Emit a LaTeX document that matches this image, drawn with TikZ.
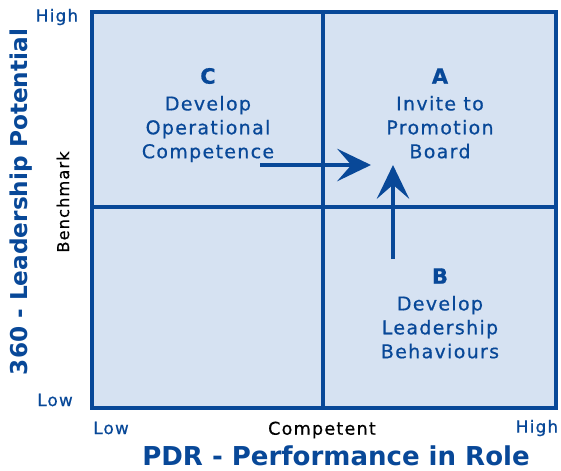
\documentclass[tikz,border=0pt]{standalone}
\usepackage{fontspec}
\setmainfont{DejaVu Sans}
\newfontfamily\quadfont[LetterSpace=7,FakeBold=0.6]{DejaVu Sans}
\usetikzlibrary{arrows.meta}

\definecolor{gridblue}{RGB}{8,72,152}
\definecolor{cellfill}{RGB}{214,226,242}

\begin{document}
\begin{tikzpicture}[x=0.025cm,y=-0.025cm,
    quad/.style={text=gridblue,align=center,font=\quadfont\fontsize{13.5}{17}\selectfont},
    quadletter/.style={text=gridblue,font=\quadfont\bfseries\fontsize{15}{17}\selectfont},
    axislabel/.style={text=gridblue,font=\quadfont\fontsize{12}{14}\selectfont},
    axistitle/.style={text=gridblue,font=\bfseries\fontsize{16}{18}\selectfont},
    move/.style={gridblue,line width=3pt,-{Stealth[length=24pt,width=23pt,inset=10pt]}}]
\useasboundingbox (0,0) rectangle (561,470);
% the grid
\fill[cellfill] (92,12) rectangle (556,408);
\draw[gridblue,line width=3.5pt] (92,12) rectangle (556,408);
\draw[gridblue,line width=3.5pt] (323,12) -- (323,408);
\draw[gridblue,line width=3.5pt] (92,207) -- (556,207);

% quadrant texts
\node[quadletter](Cl) at (208,76){C};
\node[quad,anchor=north](Ct) at (208,91){Develop\\Operational\\Competence};
\node[quadletter](Al) at (440,76){A};
\node[quad,anchor=north](At) at (440,91){Invite to\\Promotion\\Board};
\node[quadletter](Bl) at (440,276){B};
\node[quad,anchor=north](Bt) at (440,291){Develop\\Leadership\\Behaviours};

% moves towards A
\coordinate(Cfrom) at (260,165);
\coordinate(Cto) at (371,165);
\coordinate(Bfrom) at (393,259);
\coordinate(Bto) at (393,165);
\draw[move](Cfrom)--(Cto);
\draw[move](Bfrom)--(Bto);

% axes
\node[axislabel](yhigh) at (57,17){High};
\node[axislabel](ylow) at (55,400){Low};
\node[text=black,font=\quadfont\fontsize{11.5}{13}\selectfont,rotate=90](bench) at (63,202){Benchmark};
\node[axistitle,font=\bfseries\fontsize{16.5}{19}\selectfont,rotate=90](ytitle) at (21,202){360 - Leadership Potential};
\node[axislabel](xlow) at (111,428){Low};
\node[text=black,font=\quadfont\fontsize{12.5}{14}\selectfont](comp) at (322,430){Competent};
\node[axislabel](xhigh) at (537,428){High};
\node[axistitle,font=\bfseries\fontsize{18.5}{20}\selectfont](xtitle) at (336,456){PDR - Performance in Role};
\end{tikzpicture}
\end{document}
